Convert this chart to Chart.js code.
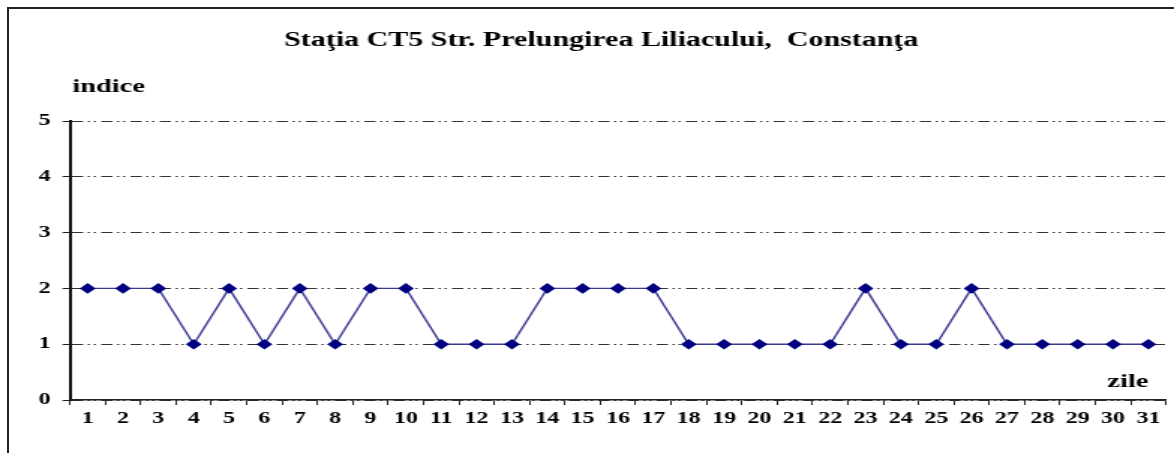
<!DOCTYPE html>
<html>
<head>
<meta charset="utf-8">
<title>Staţia CT5 Str. Prelungirea Liliacului, Constanţa</title>
<script src="https://cdn.jsdelivr.net/npm/chart.js@4.4.1/dist/chart.umd.min.js"></script>
<style>
  html, body { margin: 0; padding: 0; background: #fff; overflow: hidden; }
  /* the original picture is stretched sideways, so the chart is drawn narrow and scaled */
  #wrap { position: absolute; left: 0; top: 0; width: 783px; height: 453px;
          transform: scaleX(1.49936); transform-origin: 0 0; }
  #frame { position: absolute; left: 7px; top: 7px; width: 1200px; height: 500px;
           border-left: 2px solid #222; border-top: 2px solid #222; pointer-events: none; }
</style>
</head>
<body>
<div id="wrap"><canvas id="chart" width="783" height="453"></canvas></div>
<div id="frame"></div>
<script>
const titleText = 'Staţia CT5 Str. Prelungirea Liliacului,  Constanţa';
const days = ['1','2','3','4','5','6','7','8','9','10','11','12','13','14','15','16',
              '17','18','19','20','21','22','23','24','25','26','27','28','29','30','31'];
const indexValues = [2,2,2,1,2,1,2,1,2,2,1,1,1,2,2,2,2,1,1,1,1,1,2,1,1,2,1,1,1,1,1];
const yTicks = [0,1,2,3,4,5];

const serif = '"Liberation Serif", "Times New Roman", serif';

// axis names drawn next to the axes, like the original
const axisNames = {
  id: 'axisNames',
  afterDraw(chart) {
    const ctx = chart.ctx;
    const area = chart.chartArea;
    ctx.save();
    ctx.font = 'bold 19px ' + serif;
    ctx.fillStyle = '#000';
    ctx.textBaseline = 'alphabetic';
    ctx.textAlign = 'left';
    ctx.fillText('indice', area.left + 1.5, 91.5);
    ctx.fillText('zile', 738.5, 386.5);
    ctx.restore();
  }
};

new Chart(document.getElementById('chart'), {
  type: 'line',
  data: {
    labels: days,
    datasets: [{
      data: indexValues,
      borderColor: '#3a3a90',
      borderWidth: 1.4,
      tension: 0,
      pointStyle: 'rectRot',
      pointRadius: 5.3,
      pointBackgroundColor: '#000080',
      pointBorderColor: '#000080',
      pointBorderWidth: 0
    }]
  },
  options: {
    responsive: false,
    animation: false,
    layout: { padding: { left: 23, right: 4, top: 0, bottom: 0 } },
    plugins: {
      legend: { display: false },
      tooltip: { enabled: false },
      title: {
        display: true,
        text: titleText,
        color: '#000',
        font: { family: serif, size: 20, weight: 'bold', lineHeight: 1.2 },
        padding: { top: 28.5, bottom: 68.5 }
      }
    },
    scales: {
      x: {
        type: 'category',
        offset: true,
        grid: { offset: true, drawOnChartArea: false, drawTicks: true, tickLength: 5, color: '#222' },
        border: { display: true, color: '#222', width: 1.5 },
        ticks: {
          color: '#000', padding: 4, maxRotation: 0, autoSkip: false,
          font: { family: serif, size: 16, weight: 'bold' }
        },
        afterFit(scale) { scale.height = 53; }
      },
      y: {
        min: 0,
        max: 5,
        afterBuildTicks(scale) { scale.ticks = yTicks.map(v => ({ value: v })); },
        grid: { color: '#333', lineWidth: 1, drawTicks: true, tickLength: 5, tickColor: '#222' },
        border: { display: true, color: '#111', width: 2, dash: [7.5, 3, 1.5, 2.5, 1.5, 3.5] },
        ticks: {
          color: '#000', padding: 8,
          font: { family: serif, size: 16, weight: 'bold' }
        },
        afterFit(scale) { scale.width = 23.67; }
      }
    }
  },
  plugins: [axisNames]
});
</script>
</body>
</html>
